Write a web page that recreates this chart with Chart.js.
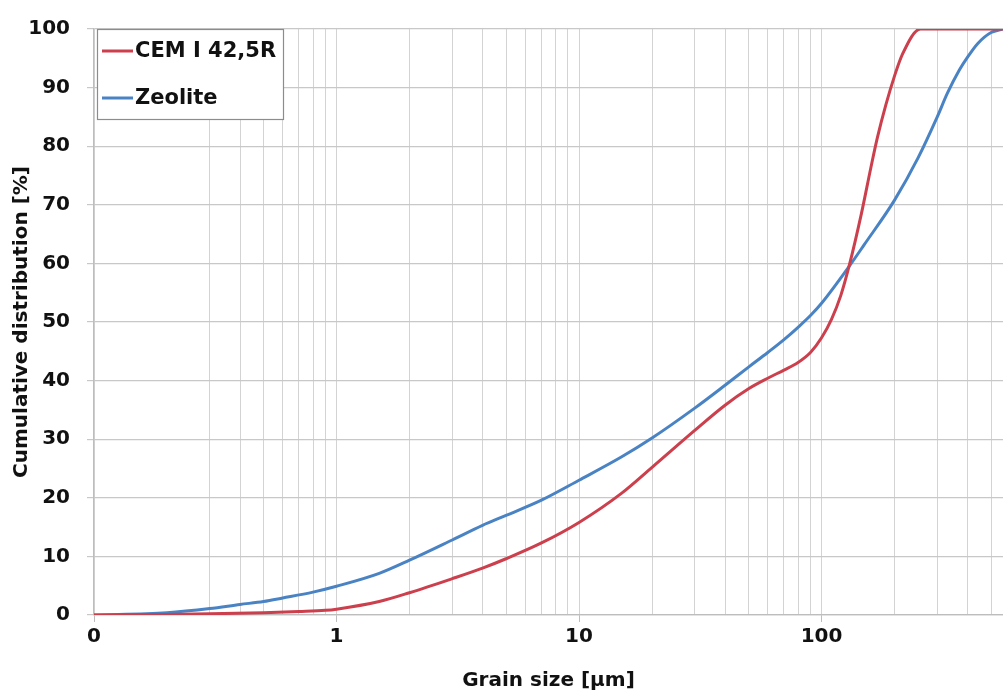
<!DOCTYPE html>
<html>
<head>
<meta charset="utf-8">
<script src="https://cdn.jsdelivr.net/npm/chart.js@4"></script>
<style>
  html, body { margin: 0; padding: 0; background: #ffffff; }
  canvas { display: block; }
</style>
</head>
<body>
<canvas id="c" width="1003" height="693"></canvas>
<script>
// ---- data (grain size in µm, cumulative %) ----
const cemLabel = 'CEM I 42,5R';
const cemX = [0.1, 0.2, 0.3, 0.5, 0.7, 0.9, 1, 1.5, 2, 3, 4, 5, 7, 10, 15, 20, 30, 40, 50, 60, 70, 80, 90, 100, 110, 120, 130, 146, 160, 170, 184, 200, 215, 256, 300, 400, 560];
const cemY = [0, 0.1, 0.2, 0.4, 0.6, 0.8, 1, 2.3, 3.8, 6.2, 8.0, 9.6, 12.3, 15.8, 20.8, 25.2, 31.5, 35.8, 38.6, 40.4, 41.8, 43.1, 44.8, 47.3, 50.5, 54.5, 59.6, 68.5, 76.5, 81.5, 87, 92, 95.6, 100, 100, 100, 100];

const zeoLabel = 'Zeolite';
const zeoX = [0.1, 0.2, 0.3, 0.4, 0.5, 0.6, 0.8, 1, 1.5, 2, 3, 4, 5, 7, 10, 15, 20, 30, 40, 50, 60, 70, 80, 90, 100, 130, 150, 200, 250, 300, 330, 370, 400, 440, 500, 560];
const zeoY = [0, 0.4, 1.1, 1.8, 2.3, 2.9, 3.9, 4.9, 7.1, 9.35, 12.8, 15.3, 17, 19.6, 23, 27, 30.2, 35.3, 39.2, 42.3, 44.8, 47, 49.1, 51.1, 53.2, 59.5, 63.2, 70.8, 78, 85, 89, 93, 95.2, 97.5, 99.4, 100];

// x-axis tick values (log grid) and labels for the decades
const xTickValues = [0.1, 0.2, 0.3, 0.4, 0.5, 0.6, 0.7, 0.8, 0.9,
                     1, 2, 3, 4, 5, 6, 7, 8, 9,
                     10, 20, 30, 40, 50, 60, 70, 80, 90,
                     100, 200, 300, 400, 500];
const xMajorTicks = [0.1, 1, 10, 100];
const xMajorLabels = ['0', '1', '10', '100'];
const xHiddenGrid = [0.2];
const yTickValues = [0, 10, 20, 30, 40, 50, 60, 70, 80, 90, 100];

const xMin = 0.1, xMax = 560;
const redColor = '#cc3f4d';
const blueColor = '#4a83c3';
const fontFamily = '"DejaVu Sans", sans-serif';

function toPoints(xs, ys) { return xs.map((x, i) => ({ x: x, y: ys[i] })); }

const isClose = (a, b) => Math.abs(a - b) < 1e-9 * Math.max(1, Math.abs(b));

const legendPlugin = {
  id: 'boxLegend',
  afterDraw(chart) {
    const ctx = chart.ctx;
    const area = chart.chartArea;
    const bx = area.left + 3, by = area.top, bw = 186, bh = 90;
    ctx.save();
    ctx.fillStyle = '#ffffff';
    ctx.fillRect(bx, by, bw, bh);
    ctx.strokeStyle = '#8c8c8c';
    ctx.lineWidth = 1.2;
    ctx.strokeRect(bx + 0.5, by + 0.5, bw, bh);
    const rows = [by + 22, by + 69];
    chart.data.datasets.forEach((ds, i) => {
      const y = rows[i];
      ctx.strokeStyle = ds.borderColor;
      ctx.lineWidth = 3;
      ctx.beginPath();
      ctx.moveTo(bx + 5, y);
      ctx.lineTo(bx + 36, y);
      ctx.stroke();
      ctx.fillStyle = '#111111';
      ctx.font = 'bold 21px ' + fontFamily;
      ctx.textBaseline = 'middle';
      ctx.textAlign = 'left';
      ctx.fillText(ds.label, bx + 38, y + 1);
    });
    ctx.restore();
  }
};

new Chart(document.getElementById('c'), {
  type: 'line',
  data: {
    datasets: [
      { label: cemLabel, data: toPoints(cemX, cemY), borderColor: redColor, backgroundColor: redColor,
        borderWidth: 3, pointRadius: 0, fill: false, cubicInterpolationMode: 'monotone' },
      { label: zeoLabel, data: toPoints(zeoX, zeoY), borderColor: blueColor, backgroundColor: blueColor,
        borderWidth: 3, pointRadius: 0, fill: false, cubicInterpolationMode: 'monotone' }
    ]
  },
  options: {
    responsive: false,
    animation: false,
    layout: { padding: { top: 27, right: 0, bottom: 0, left: 0 } },
    plugins: { legend: { display: false }, tooltip: { enabled: false } },
    scales: {
      x: {
        type: 'logarithmic',
        min: xMin,
        max: xMax,
        afterBuildTicks(scale) {
          scale.ticks = xTickValues.map(v => ({ value: v, major: xMajorTicks.some(m => isClose(m, v)) }));
        },
        afterFit(scale) { scale.height = 78; },
        ticks: {
          autoSkip: false,
          maxRotation: 0,
          minRotation: 0,
          padding: 3,
          color: '#111111',
          font: { family: fontFamily, size: 20, weight: 'bold' },
          callback(value) {
            const idx = xMajorTicks.findIndex(m => isClose(m, value));
            return idx >= 0 ? xMajorLabels[idx] : '';
          }
        },
        grid: {
          color(ctx) {
            const v = ctx.tick && ctx.tick.value;
            if (v !== undefined && xHiddenGrid.some(h => isClose(h, v))) return 'rgba(0,0,0,0)';
            return '#d3d3d3';
          },
          lineWidth: 1,
          tickLength: 7,
          tickColor(ctx) {
            const v = ctx.tick && ctx.tick.value;
            return (v !== undefined && xMajorTicks.some(m => isClose(m, v))) ? '#bdbdbd' : 'rgba(0,0,0,0)';
          }
        },
        border: { display: true, color: '#bdbdbd', width: 1.2 },
        title: {
          display: true,
          text: 'Grain size [µm]',
          color: '#111111',
          font: { family: fontFamily, size: 20, weight: 'bold' },
          padding: { top: 0, bottom: 0 }
        }
      },
      y: {
        type: 'linear',
        min: 0,
        max: 100,
        afterBuildTicks(scale) {
          scale.ticks = yTickValues.map(v => ({ value: v }));
        },
        afterFit(scale) { scale.width = 94; },
        ticks: {
          padding: 17,
          color: '#111111',
          font: { family: fontFamily, size: 20, weight: 'bold' }
        },
        grid: { color: '#c8c8c8', lineWidth: 1.2, tickLength: 7, tickColor: '#c8c8c8' },
        border: { display: true, color: '#bdbdbd', width: 1.2 },
        title: {
          display: true,
          text: 'Cumulative distribution [%]',
          color: '#111111',
          font: { family: fontFamily, size: 20, weight: 'bold' },
          padding: { top: 10, bottom: 0 }
        }
      }
    }
  },
  plugins: [legendPlugin]
});
</script>
</body>
</html>
